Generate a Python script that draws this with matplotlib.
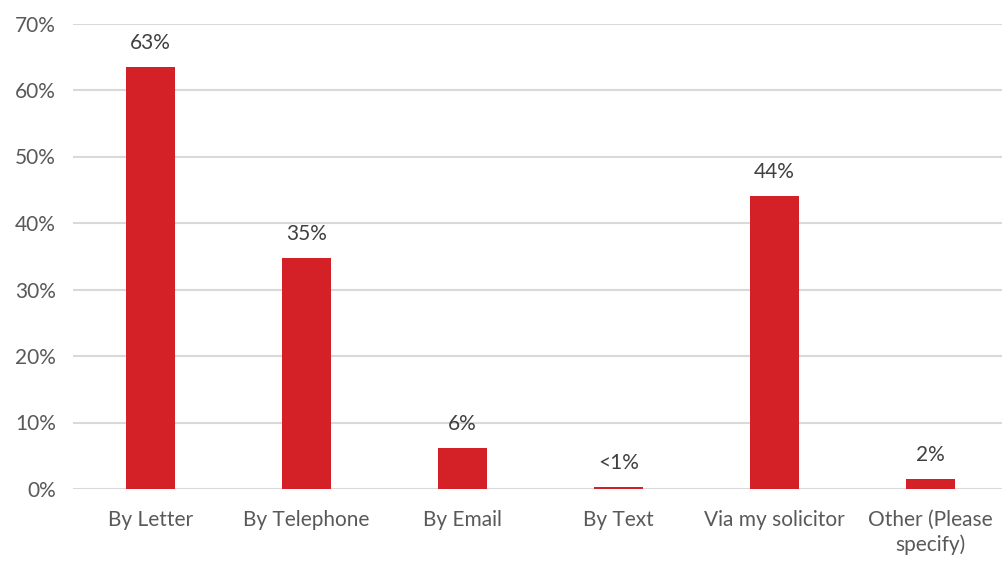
import matplotlib
matplotlib.use("Agg")
import matplotlib.pyplot as plt
import numpy as np

categories = ["By Letter", "By Telephone", "By Email", "By Text",
              "Via my solicitor", "Other (Please\nspecify)"]
values = [63.5, 34.8, 6.2, 0.3, 44.1, 1.5]
value_labels = ["63%", "35%", "6%", "<1%", "44%", "2%"]
yticks = [0, 10, 20, 30, 40, 50, 60, 70]

plt.rcParams['font.family'] = ['Lato', 'DejaVu Sans']

fig = plt.figure(figsize=(10.02, 5.61), dpi=100)
W, H = 1002, 561
left, right = 72.5, 1008.5
top, bottom = 23.5, 489
ax = fig.add_axes([left / W, 1 - bottom / H, (right - left) / W, (bottom - top) / H])

x = np.arange(len(categories))
bars = ax.bar(x, values, width=0.314, color="#D42027", zorder=3)

for b, lab in zip(bars, value_labels):
    ax.annotate(lab, (b.get_x() + b.get_width() / 2, b.get_height()),
                xytext=(0, 10), textcoords="offset points",
                ha="center", va="bottom", fontsize=15, color="#404040")

ax.set_xlim(-0.5, len(categories) - 0.5)
ax.set_ylim(0, 70)
ax.set_yticks(yticks)
ax.set_yticklabels([f"{t}%" for t in yticks], fontsize=15, color="#595959")
ax.set_xticks(x)
ax.set_xticklabels(categories, fontsize=15, color="#595959", linespacing=1.3)
ax.tick_params(axis="both", length=0)
ax.tick_params(axis="x", pad=15)
ax.tick_params(axis="y", pad=12)
ax.yaxis.grid(True, color="#D9D9D9", linewidth=1.5, zorder=0)
for s in ax.spines.values():
    s.set_visible(False)

fig.savefig("out.png", dpi=100)
